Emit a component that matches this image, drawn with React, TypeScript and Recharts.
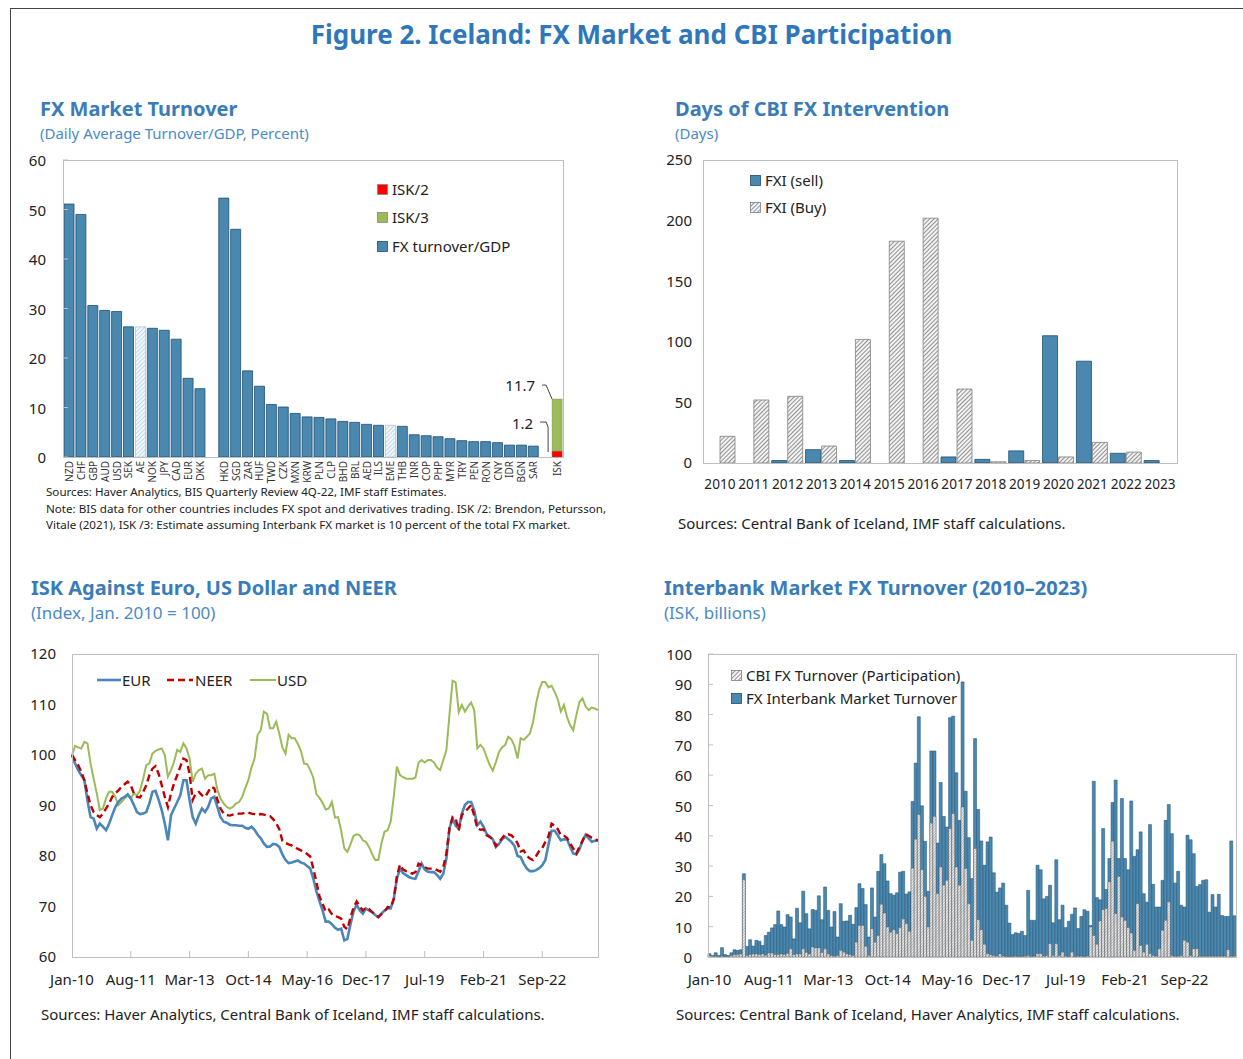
import React from "react";
import { BarChart, Bar, LineChart, Line, XAxis, YAxis, Cell } from "recharts";

const FONT = "'Noto Sans', 'Open Sans', sans-serif";
const TITLE_BLUE = "#2f77b8";
const HEAD_BLUE = "#3a7cb9";
const SUB_BLUE = "#4a8bc6";
const BAR_BLUE = "#4a88b0";
const BAR_EDGE = "#1f4f6e";
const FRAME = "#bfbfbf";

// ---------- FX Market Turnover ----------
const countries = [
  "NZD", "CHF", "GBP", "AUD", "USD", "SEK", "AE", "NOK", "JPY", "CAD", "EUR", "DKK", " ",
  "HKD", "SGD", "ZAR", "HUF", "TWD", "CZK", "MXN", "KRW", "PLN", "CLP", "BHD", "BRL", "AED",
  "ILS", "EME", "THB", "INR", "COP", "PHP", "MYR", "TRY", "PEN", "RON", "CNY", "IDR", "BGN",
  "SAR", "  ", "ISK",
];
const turnoverGdp = [
  51.1, 49.0, 30.6, 29.6, 29.4, 26.3, 26.3, 26.0, 25.6, 23.8, 15.9, 13.8, null,
  52.3, 46.0, 17.4, 14.3, 10.6, 10.1, 8.8, 8.1, 8.0, 7.7, 7.2, 7.0, 6.6,
  6.4, 6.4, 6.2, 4.5, 4.3, 4.1, 3.7, 3.3, 3.1, 3.1, 2.9, 2.4, 2.4,
  2.2, null, null,
];
const hatchedCountries = ["AE", "EME"];
const iskLow = 1.2; // ISK/2
const iskHigh = 11.7; // ISK/3
const ISK_IDX = countries.indexOf("ISK");

const turnoverRows = countries.map((name, i) => ({
  name,
  fx: turnoverGdp[i],
  isk2: i === ISK_IDX ? iskLow : null,
  isk3: i === ISK_IDX ? +(iskHigh - iskLow).toFixed(1) : null,
}));

// ---------- Days of CBI FX Intervention ----------
const years = ["2010", "2011", "2012", "2013", "2014", "2015", "2016", "2017", "2018", "2019", "2020", "2021", "2022", "2023"];
const fxiSell = [0, 0, 2, 11, 2, 0, 0, 5, 3, 10, 105, 84, 8, 2];
const fxiBuy = [22, 52, 55, 14, 102, 183, 202, 61, 1, 2, 5, 17, 9, 0];
const fxiRows = years.map((year, i) => ({ year, sell: fxiSell[i], buy: fxiBuy[i] }));

// ---------- ISK against EUR, USD, NEER (monthly, Jan-10 ..) ----------
const MONTHS = ["Jan", "Feb", "Mar", "Apr", "May", "Jun", "Jul", "Aug", "Sep", "Oct", "Nov", "Dec"];
const monthLabel = (i: number) => `${MONTHS[i % 12]}-${10 + Math.floor(i / 12)}`;

const eurIndex = [
  100, 98.3, 97.0, 96.0, 95.0, 91.0, 87.7, 87.4, 85.4, 86.4,
  85.8, 85.1, 86.4, 88.1, 89.7, 90.7, 91.4, 91.7, 92.2, 91.4,
  90.1, 88.7, 88.3, 88.4, 88.7, 90.4, 92.7, 92.9, 91.1, 89.1,
  86.4, 83.1, 88.1, 89.4, 90.7, 92.0, 95.0, 95.0, 91.1, 87.7,
  86.4, 88.1, 89.4, 88.7, 89.7, 91.4, 91.7, 89.7, 87.7, 86.8,
  86.6, 86.2, 86.1, 86.1, 86.0, 86.0, 85.6, 85.4, 85.8, 85.2,
  84.2, 83.5, 82.5, 81.8, 81.9, 82.4, 82.3, 81.8, 80.3, 79.2,
  78.6, 78.7, 78.9, 79.1, 78.7, 78.5, 78.0, 77.5, 75.5, 73.0,
  71.0, 69.2, 67.0, 67.0, 66.5, 65.8, 65.4, 65.6, 63.3, 63.6,
  66.5, 69.0, 70.4, 69.2, 68.6, 69.6, 69.2, 68.9, 68.3, 67.9,
  68.6, 69.2, 69.6, 69.6, 71.5, 75.5, 77.5, 76.6, 76.2, 75.8,
  75.6, 75.5, 77.0, 78.5, 77.3, 76.9, 76.8, 76.8, 76.2, 75.5,
  76.5, 79.5, 85.5, 87.4, 86.0, 85.4, 88.4, 90.1, 90.7, 90.7,
  89.0, 86.1, 86.8, 85.8, 84.4, 83.8, 83.3, 81.8, 82.4, 83.3,
  83.8, 83.3, 82.8, 82.0, 80.0, 79.8, 78.5, 77.5, 77.0, 77.0,
  77.2, 77.6, 78.2, 79.2, 82.3, 85.0, 85.0, 84.1, 83.1, 83.3,
  83.3, 81.8, 80.5, 80.3, 81.3, 83.0, 84.2, 83.5, 82.8, 83.0, 83.1,
];
const neerIndex = [
  100, 99.0, 98.0, 96.7, 95.0, 92.4, 90.1, 88.7, 88.1, 87.7,
  88.4, 89.4, 90.4, 91.7, 92.4, 93.0, 93.7, 94.2, 94.7, 94.0,
  92.4, 91.7, 91.6, 92.7, 94.0, 96.0, 97.3, 97.8, 96.3, 94.0,
  91.7, 89.7, 92.4, 94.4, 96.0, 97.7, 99.3, 99.0, 96.3, 91.1,
  92.4, 92.7, 92.0, 91.7, 92.7, 93.7, 93.4, 91.1, 89.4, 88.4,
  88.1, 88.0, 88.2, 88.3, 88.4, 88.4, 88.6, 88.6, 88.4, 88.3,
  88.1, 88.3, 88.2, 88.0, 87.9, 87.3, 86.5, 85.3, 83.0, 82.6,
  82.3, 82.1, 81.7, 81.4, 81.1, 80.8, 80.4, 79.9, 77.5, 74.8,
  72.0, 70.5, 69.0, 69.4, 68.5, 68.1, 67.9, 67.6, 66.0, 65.5,
  67.8, 69.8, 71.0, 70.0, 69.2, 69.8, 69.5, 68.9, 68.4, 67.9,
  68.5, 69.0, 69.9, 69.8, 71.5, 76.0, 78.3, 77.3, 77.0, 76.8,
  76.5, 76.8, 78.5, 78.2, 77.8, 77.5, 77.5, 77.5, 77.2, 76.9,
  77.8, 80.5, 85.5, 87.7, 87.4, 85.1, 88.1, 88.8, 89.4, 90.1,
  88.0, 85.5, 85.2, 85.3, 84.1, 83.8, 83.3, 82.0, 82.8, 83.5,
  84.3, 84.3, 84.1, 83.5, 82.5, 80.9, 81.1, 80.0, 79.5, 79.2,
  80.0, 81.0, 81.6, 82.8, 83.9, 86.4, 86.0, 85.3, 84.1, 84.0,
  83.6, 82.5, 81.5, 80.5, 81.8, 83.0, 84.3, 84.0, 83.6, 83.3, 83.1,
];
const usdIndex = [
  100, 101.8, 101.5, 101.3, 102.6, 102.3, 98.3, 95.3, 92.4, 89.1,
  89.4, 91.4, 92.7, 92.7, 91.7, 90.1, 90.7, 91.4, 92.0, 91.4,
  92.4, 92.0, 93.0, 95.3, 98.0, 98.3, 100.3, 100.8, 101.1, 101.3,
  100.0, 95.7, 97.0, 98.7, 101.0, 100.6, 102.3, 101.3, 99.3, 94.7,
  96.3, 97.0, 97.3, 95.3, 96.0, 96.0, 96.3, 93.0, 91.4, 90.4,
  89.7, 89.4, 89.7, 90.4, 90.7, 91.7, 93.5, 95.0, 97.5, 99.3,
  104.0, 104.9, 108.6, 108.2, 105.3, 105.3, 106.6, 104.2, 101.5, 100.3,
  104.0, 103.3, 103.3, 102.2, 100.8, 98.3, 98.2, 97.0, 95.5, 92.2,
  91.5, 90.5, 89.2, 89.4, 90.7, 87.6, 87.7, 85.0, 81.5, 80.8,
  82.3, 84.0, 84.3, 84.1, 83.1, 82.8, 81.8, 80.4, 79.2, 79.2,
  82.5, 84.8, 85.1, 86.8, 91.8, 97.7, 96.0, 95.6, 95.3, 95.3,
  95.3, 95.5, 98.5, 99.0, 98.5, 99.0, 99.0, 98.5, 97.5, 97.0,
  99.0, 101.0, 108.0, 114.7, 114.4, 108.5, 109.9, 108.6, 109.6, 110.4,
  108.9, 101.3, 102.0, 101.3, 99.6, 98.0, 96.9, 98.6, 100.6, 101.5,
  102.0, 103.6, 103.1, 101.8, 99.3, 103.3, 103.0, 103.6, 104.3, 106.5,
  110.2, 112.9, 114.5, 114.4, 113.4, 113.7, 112.5, 111.0, 108.6, 109.9,
  107.5, 105.9, 104.9, 107.9, 110.5, 111.2, 109.6, 108.9, 109.4, 109.2, 108.9,
];
const iskRows = eurIndex.map((eur, i) => ({
  month: monthLabel(i),
  eur,
  neer: neerIndex[i],
  usd: usdIndex[i],
}));

// ---------- Interbank Market FX Turnover (monthly, Jan-10 ..) ----------
const interbankTurnover = [
  1.1, 0.5, 1.4, 0.5, 3.1, 0.8, 0.5, 1.4, 2.4, 2.2,
  2.4, 27.5, 3.5, 5.7, 3.6, 5.5, 5.2, 3.8, 7.1, 8.2,
  9.6, 10.7, 15.2, 10.7, 9.9, 14.0, 13.2, 6.0, 16.1, 11.3,
  21.7, 14.3, 9.3, 15.7, 15.4, 20.2, 12.3, 23.1, 15.4, 9.9,
  15.0, 6.6, 17.6, 11.8, 11.9, 13.8, 10.8, 16.3, 24.2, 22.6,
  17.3, 6.6, 22.8, 13.2, 28.3, 33.8, 30.8, 25.1, 20.9, 20.4,
  21.2, 28.0, 28.3, 20.8, 21.5, 51.3, 64.0, 79.3, 49.9, 38.2,
  21.7, 68.0, 68.0, 37.6, 57.6, 46.4, 42.9, 79.0, 79.5, 60.8,
  45.1, 90.8, 54.7, 39.4, 25.9, 72.1, 48.7, 38.3, 30.3, 38.0,
  39.6, 27.8, 21.4, 22.8, 24.4, 17.1, 11.2, 7.4, 8.0, 7.8,
  8.5, 7.1, 22.0, 12.1, 12.1, 30.3, 28.8, 19.2, 20.0, 23.7,
  11.3, 32.1, 12.3, 17.1, 9.7, 11.8, 14.1, 16.2, 9.4, 13.4,
  15.6, 15.1, 10.4, 58.0, 19.6, 18.9, 42.4, 22.3, 32.5, 51.0,
  58.4, 32.5, 52.3, 32.5, 28.8, 51.5, 33.2, 35.4, 41.3, 20.9,
  18.1, 43.7, 24.0, 16.5, 16.5, 25.3, 45.1, 50.3, 40.7, 24.4,
  28.3, 17.1, 16.5, 40.2, 38.7, 34.1, 23.3, 23.9, 25.3, 25.5,
  14.8, 20.6, 16.5, 20.7, 13.7, 13.4, 13.4, 38.3, 13.6,
];
const cbiTurnover = [
  0.3, 0.2, 0.3, 0.2, 0.3, 0.2, 0.2, 0.5, 0.8, 0.8,
  1.0, 25.5, 0.5, 0.8, 1.0, 1.0, 0.8, 1.0, 0.6, 1.3,
  1.3, 0.8, 0.8, 1.0, 0.8, 1.2, 2.7, 0.8, 1.0, 1.0,
  2.7, 1.5, 1.0, 3.3, 3.0, 3.0, 1.5, 2.7, 1.0, 0.5,
  0.3, 0.5, 2.2, 1.6, 1.0, 0.8, 0.5, 4.9, 10.4, 10.4,
  3.5, 0.5, 9.3, 4.9, 7.1, 17.4, 14.5, 9.9, 8.2, 9.0,
  7.7, 9.7, 12.6, 11.0, 8.5, 29.3, 38.9, 47.0, 28.8, 20.0,
  9.9, 44.2, 46.4, 20.9, 29.7, 23.7, 25.3, 42.4, 47.3, 29.7,
  23.7, 49.5, 29.2, 17.6, 5.5, 35.8, 12.3, 9.0, 4.2, 1.1,
  0.7, 0.5, 0.3, 1.0, 0.3, 0.2, 0.2, 0.2, 0.3, 0.2,
  0.2, 0.3, 0.5, 0.2, 0.3, 1.1, 1.1, 0.3, 0.5, 4.4,
  0.5, 4.4, 0.5, 1.6, 0.3, 0.2, 1.6, 0.2, 0.3, 0.3,
  0.2, 0.3, 9.9, 7.1, 4.2, 11.9, 15.6, 16.0, 24.8, 38.2,
  14.3, 26.6, 13.2, 12.1, 9.7, 7.9, 2.2, 17.6, 3.8, 1.6,
  4.2, 1.1, 0.5, 0.3, 2.7, 8.8, 12.1, 18.2, 0.5, 0.3,
  0.3, 0.5, 5.5, 4.9, 0.5, 2.7, 2.7, 0.3, 0.3, 0.3,
  0.3, 0.3, 0.3, 0.3, 0.3, 0.3, 2.4, 0.3, 0.3,
];
const interbankRows = interbankTurnover.map((total, i) => ({
  month: monthLabel(i),
  total,
  cbi: cbiTurnover[i],
}));

// ---------- helpers ----------
const tickStyle = { fontSize: 15, fill: "#222", fontFamily: FONT };

function Txt({ x, y, size, color = "#222", bold = false, children, style }: any) {
  const lh = Math.round(size * 1.3);
  return (
    <div
      style={{
        position: "absolute", left: x, top: y - lh / 2, height: lh, lineHeight: `${lh}px`,
        fontSize: size, color, fontWeight: bold ? 700 : 400, fontFamily: FONT, whiteSpace: "nowrap", ...style,
      }}
    >
      {children}
    </div>
  );
}

function Frame({ x, y, w, h }: any) {
  return <div style={{ position: "absolute", left: x, top: y, width: w, height: h, border: `1px solid ${FRAME}`, boxSizing: "border-box", pointerEvents: "none" }} />;
}

function Swatch({ kind }: { kind: string }) {
  const id = `sw-${kind}`;
  const fills: any = { red: "#ff0000", green: "#9bbb59", blue: BAR_BLUE };
  return (
    <svg width={11} height={11} style={{ display: "block" }}>
      <defs>
        <pattern id={id} width="3" height="3" patternUnits="userSpaceOnUse" patternTransform="rotate(45)">
          <rect width="3" height="3" fill="#f4f4f4" />
          <line x1="0" y1="0" x2="0" y2="3" stroke="#5f5f5f" strokeWidth="1.3" />
        </pattern>
      </defs>
      <rect x={0.5} y={0.5} width={10} height={10} fill={kind === "hatch" ? `url(#${id})` : fills[kind]} stroke={kind === "hatch" ? "#7f7f7f" : kind === "blue" ? BAR_EDGE : "#888"} strokeWidth={0.8} />
    </svg>
  );
}

function LegendRow({ x, y, kind, label, size = 15 }: any) {
  return (
    <div style={{ position: "absolute", left: x, top: y - 10, height: 20, display: "flex", alignItems: "center", gap: 4, fontFamily: FONT, fontSize: size, color: "#222", whiteSpace: "nowrap" }}>
      <Swatch kind={kind} />
      <span>{label}</span>
    </div>
  );
}

const RotatedTick = (props: any) => {
  const { x, y, payload } = props;
  const label = String(payload.value).trim();
  if (!label) return null;
  return (
    <text x={x} y={y} transform={`rotate(-90 ${x} ${y})`} textAnchor="end" dominantBaseline="central" fontSize={10} fill="#333" fontFamily={FONT}>
      {label}
    </text>
  );
};

// left y-axis tick with a short inward tick mark
const inwardYTick = (gap: number) => (props: any) => {
  const { x, y, payload } = props;
  const ax = x + gap;
  return (
    <g>
      <line x1={ax} x2={ax + 5} y1={y} y2={y} stroke={FRAME} />
      <text x={x} y={y} textAnchor="end" dominantBaseline="central" {...tickStyle}>{payload.value}</text>
    </g>
  );
};

// bottom x-axis tick with a short inward tick mark
const inwardXTick = (gap: number) => (props: any) => {
  const { x, y, payload, index } = props;
  const ay = y - gap;
  return (
    <g>
      {index > 0 && <line x1={x} x2={x} y1={ay} y2={ay - 6} stroke={FRAME} />}
      <text x={x} y={y} dy="0.71em" textAnchor="middle" {...tickStyle}>{payload.value}</text>
    </g>
  );
};

// ISK stacked segments, drawn with their value label and leader line
const IskHighShape = (props: any) => {
  const { x, y, width, height, fill, stroke } = props;
  if (!height || height <= 0) return null;
  return (
    <g>
      <rect x={x} y={y} width={width} height={height} fill={fill} stroke={stroke} strokeWidth={0.5} />
      <text x={x - 17} y={y - 14} textAnchor="end" dominantBaseline="central" {...tickStyle}>{iskHigh.toFixed(1)}</text>
      <polyline points={`${x - 10},${y - 14} ${x - 6},${y - 14} ${x},${y}`} fill="none" stroke="#444" strokeWidth={1} />
    </g>
  );
};

const IskLowShape = (props: any) => {
  const { x, y, width, height, fill, stroke } = props;
  if (!height || height <= 0) return null;
  return (
    <g>
      <rect x={x} y={y} width={width} height={height} fill={fill} stroke={stroke} strokeWidth={0.5} />
      <text x={x - 19} y={y - 28} textAnchor="end" dominantBaseline="central" {...tickStyle}>{iskLow.toFixed(1)}</text>
      <polyline points={`${x - 12},${y - 29} ${x - 6},${y - 29} ${x - 4},${y - 24} ${x - 4},${y + 1}`} fill="none" stroke="#444" strokeWidth={1} />
    </g>
  );
};

export default function App() {
  return (
    <div style={{ position: "absolute", left: 0, top: 0, width: 1243, height: 1059, background: "#fff", overflow: "hidden", fontFamily: FONT }}>
      <div style={{ position: "absolute", left: 10, top: 8, width: 1260, height: 1080, border: "1px solid #444" }} />

      <div style={{ position: "absolute", left: 0, width: 1263, top: 15, textAlign: "center", fontFamily: FONT, fontWeight: 700, fontSize: 26, color: TITLE_BLUE, lineHeight: "38px" }}>
        Figure 2. Iceland: FX Market and CBI Participation
      </div>

      {/* ---------- top-left ---------- */}
      <Txt x={40} y={109} size={20} bold color={HEAD_BLUE}>FX Market Turnover</Txt>
      <Txt x={40} y={133} size={15} color={SUB_BLUE}>(Daily Average Turnover/GDP, Percent)</Txt>
      <div style={{ position: "absolute", left: 20, top: 150 }}>
        <BarChart width={583} height={337} data={turnoverRows} margin={{ top: 10, right: 0, left: 0, bottom: 0 }} barSize={10}>
          <defs>
            <pattern id="p1hatch" width="3" height="3" patternUnits="userSpaceOnUse" patternTransform="rotate(45)">
              <rect width="3" height="3" fill="#f3f8fc" />
              <line x1="0" y1="0" x2="0" y2="3" stroke="#9fc3de" strokeWidth="1.2" />
            </pattern>
          </defs>
          <XAxis dataKey="name" interval={0} tick={<RotatedTick />} tickLine={false} axisLine={false} height={30} tickSize={0} tickMargin={4} />
          <YAxis yAxisId="l" domain={[0, 60]} ticks={[0, 10, 20, 30, 40, 50, 60]} width={43} axisLine={false} tickLine={false} tickSize={0} tickMargin={17} tick={inwardYTick(17)} />
          <YAxis yAxisId="r" orientation="right" domain={[0, 60]} ticks={[0, 10, 20, 30, 40, 50, 60]} width={40} axisLine={false} tickLine={{ stroke: FRAME }} tickSize={5} tickMargin={12} tick={tickStyle} />
          <Bar yAxisId="l" dataKey="fx" stackId="s" fill={BAR_BLUE} stroke={BAR_EDGE} strokeWidth={0.8} isAnimationActive={false}>
            {turnoverRows.map((r) => (
              <Cell key={r.name} fill={hatchedCountries.includes(r.name) ? "url(#p1hatch)" : BAR_BLUE} stroke={hatchedCountries.includes(r.name) ? "#a9c7de" : BAR_EDGE} />
            ))}
          </Bar>
          <Bar yAxisId="l" dataKey="isk2" stackId="s" fill="#ff0000" stroke="#9a3b3b" shape={IskLowShape} isAnimationActive={false} />
          <Bar yAxisId="l" dataKey="isk3" stackId="s" fill="#9bbb59" stroke="#7a9a48" shape={IskHighShape} isAnimationActive={false} />
        </BarChart>
      </div>
      <Frame x={63} y={160} w={501} h={298} />
      <LegendRow x={377} y={189} kind="red" label="ISK/2" />
      <LegendRow x={377} y={217} kind="green" label="ISK/3" />
      <LegendRow x={377} y={246} kind="blue" label="FX turnover/GDP" />
      <Txt x={46} y={491} size={11.6}>Sources: Haver Analytics, BIS Quarterly Review 4Q-22, IMF staff Estimates.</Txt>
      <Txt x={46} y={508} size={11.6} style={{ width: 560, textAlign: "justify", textAlignLast: "justify" }}>Note: BIS data for other countries includes FX spot and derivatives trading. ISK /2: Brendon, Petursson,</Txt>
      <Txt x={46} y={524} size={11.6}>Vitale (2021), ISK /3: Estimate assuming Interbank FX market is 10 percent of the total FX market.</Txt>

      {/* ---------- top-right ---------- */}
      <Txt x={675} y={109} size={20} bold color={HEAD_BLUE}>Days of CBI FX Intervention</Txt>
      <Txt x={675} y={133} size={15} color={SUB_BLUE}>(Days)</Txt>
      <div style={{ position: "absolute", left: 650, top: 150 }}>
        <BarChart width={527} height={353} data={fxiRows} margin={{ top: 10, right: 0, left: 0, bottom: 0 }} barSize={15} barGap={1}>
          <defs>
            <pattern id="p2hatch" width="3" height="3" patternUnits="userSpaceOnUse" patternTransform="rotate(45)">
              <rect width="3" height="3" fill="#f2f2f2" />
              <line x1="0" y1="0" x2="0" y2="3" stroke="#5f5f5f" strokeWidth="1.3" />
            </pattern>
          </defs>
          <XAxis dataKey="year" interval={0} tickLine={false} axisLine={false} height={40} tickSize={0} tickMargin={16} tick={{ ...tickStyle, fontSize: 13.6 }} />
          <YAxis domain={[0, 250]} ticks={[0, 50, 100, 150, 200, 250]} width={53} axisLine={false} tickLine={false} tickSize={0} tickMargin={11} tick={tickStyle} />
          <Bar dataKey="sell" fill={BAR_BLUE} stroke={BAR_EDGE} strokeWidth={0.8} isAnimationActive={false} />
          <Bar dataKey="buy" fill="url(#p2hatch)" stroke="#808080" strokeWidth={0.8} isAnimationActive={false} />
        </BarChart>
      </div>
      <Frame x={703} y={160} w={475} h={304} />
      <LegendRow x={750} y={180} kind="blue" label="FXI (sell)" />
      <LegendRow x={750} y={207} kind="hatch" label="FXI (Buy)" />
      <Txt x={678} y={523} size={15}>Sources: Central Bank of Iceland, IMF staff calculations.</Txt>

      {/* ---------- bottom-left ---------- */}
      <Txt x={31} y={588} size={20} bold color={HEAD_BLUE}>ISK Against Euro, US Dollar and NEER</Txt>
      <Txt x={31} y={613} size={17} color={SUB_BLUE}>(Index, Jan. 2010 = 100)</Txt>
      <div style={{ position: "absolute", left: 20, top: 644 }}>
        <LineChart width={578} height={353} data={iskRows} margin={{ top: 10, right: 0, left: 0, bottom: 0 }}>
          <XAxis dataKey="month" interval={18} tickLine={false} axisLine={false} height={40} tickSize={0} tickMargin={17} tick={inwardXTick(17)} />
          <YAxis domain={[60, 120]} ticks={[60, 70, 80, 90, 100, 110, 120]} width={52} axisLine={false} tickLine={false} tickSize={0} tickMargin={16} tick={tickStyle} />
          <Line dataKey="usd" stroke="#9bbb59" strokeWidth={2} dot={false} isAnimationActive={false} />
          <Line dataKey="eur" stroke="#4a86b8" strokeWidth={2.6} dot={false} isAnimationActive={false} />
          <Line dataKey="neer" stroke="#c00000" strokeWidth={2.4} strokeDasharray="7 4" dot={false} isAnimationActive={false} />
        </LineChart>
      </div>
      <Frame x={72} y={654} w={527} h={304} />
      <svg style={{ position: "absolute", left: 0, top: 670 }} width={320} height={20}>
        <line x1={97} x2={121} y1={10} y2={10} stroke="#4a86b8" strokeWidth={2.6} />
        <line x1={167} x2={193} y1={10} y2={10} stroke="#c00000" strokeWidth={2.4} strokeDasharray="7 4" />
        <line x1={250} x2={276} y1={10} y2={10} stroke="#9bbb59" strokeWidth={2} />
      </svg>
      <Txt x={122} y={680} size={15}>EUR</Txt>
      <Txt x={195} y={680} size={15}>NEER</Txt>
      <Txt x={277} y={680} size={15}>USD</Txt>
      <Txt x={41} y={1014} size={15}>Sources: Haver Analytics, Central Bank of Iceland, IMF staff calculations.</Txt>

      {/* ---------- bottom-right ---------- */}
      <Txt x={664} y={588} size={20} bold color={HEAD_BLUE}>Interbank Market FX Turnover (2010–2023)</Txt>
      <Txt x={664} y={613} size={17} color={SUB_BLUE}>(ISK, billions)</Txt>
      <div style={{ position: "absolute", left: 655, top: 644 }}>
        <BarChart width={581} height={353} data={interbankRows} margin={{ top: 10, right: 0, left: 0, bottom: 0 }} barSize={3} barGap={-3}>
          <defs>
            <pattern id="p4hatch" width="2" height="2" patternUnits="userSpaceOnUse" patternTransform="rotate(45)">
              <rect width="2" height="2" fill="#f0f0f0" />
              <line x1="0" y1="0" x2="0" y2="2" stroke="#7a7a7a" strokeWidth="0.9" />
            </pattern>
          </defs>
          <XAxis dataKey="month" interval={18} tickLine={false} axisLine={false} height={40} tickSize={0} tickMargin={17} tick={tickStyle} />
          <YAxis domain={[0, 100]} ticks={[0, 10, 20, 30, 40, 50, 60, 70, 80, 90, 100]} width={53} axisLine={false} tickLine={false} tickSize={0} tickMargin={16} tick={inwardYTick(16)} />
          <Bar dataKey="total" fill={BAR_BLUE} stroke={BAR_EDGE} strokeWidth={0.5} isAnimationActive={false} />
          <Bar dataKey="cbi" fill="url(#p4hatch)" stroke="#555" strokeWidth={0.4} isAnimationActive={false} />
        </BarChart>
      </div>
      <Frame x={708} y={654} w={529} h={304} />
      <LegendRow x={731} y={675} kind="hatch" label="CBI FX Turnover (Participation)" />
      <LegendRow x={731} y={698} kind="blue" label="FX Interbank Market Turnover" />
      <Txt x={676} y={1014} size={15}>Sources: Central Bank of Iceland, Haver Analytics, IMF staff calculations.</Txt>
    </div>
  );
}
